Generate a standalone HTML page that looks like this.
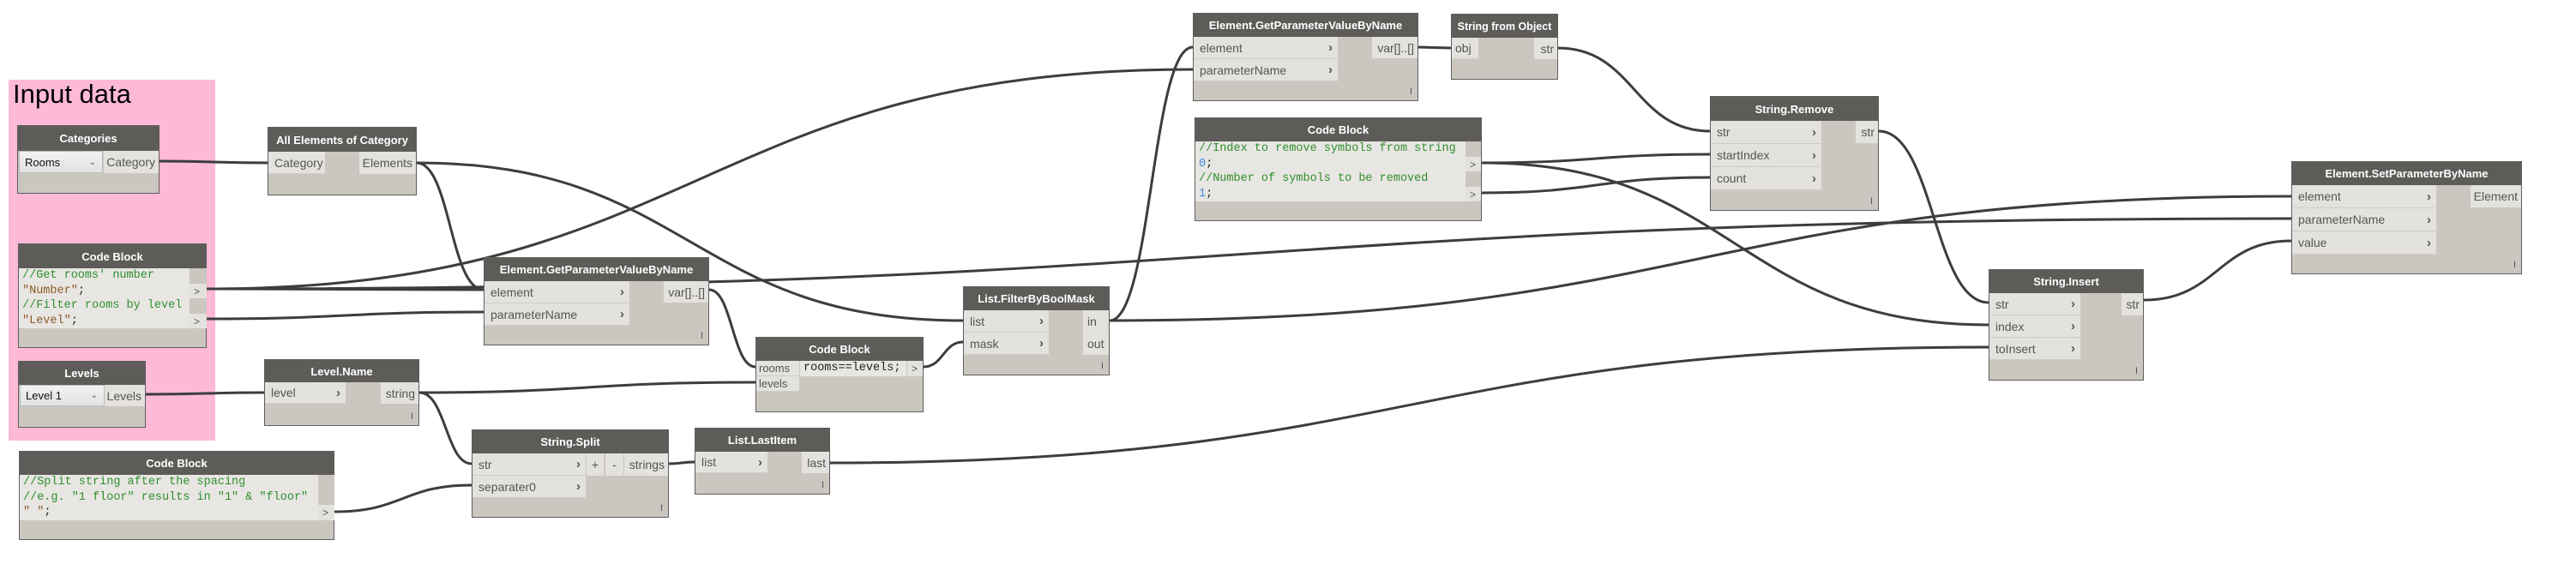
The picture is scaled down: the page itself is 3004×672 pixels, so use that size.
<!DOCTYPE html>
<html><head><meta charset="utf-8">
<style>
*{margin:0;padding:0;box-sizing:border-box}
body{width:3004px;height:672px;background:#fff;position:relative;overflow:hidden;font-family:"Liberation Sans",sans-serif}
.grp{position:absolute;left:10px;top:93px;width:241px;height:421px;background:#fdb9d6}
.gt{position:absolute;left:15px;top:92px;font-size:31px;color:#000}
svg{position:absolute;left:0;top:0}
.n{position:absolute;background:#cbc7c0;border:1px solid #5e5e5e}
.h{position:absolute;left:0;top:0;width:100%;background:#5d5c59;color:#fff;font-weight:bold;font-size:13px;text-align:center;display:flex;align-items:center;justify-content:center;white-space:nowrap;overflow:hidden}
.p{position:absolute;background:#e4e2de;color:#555;font-size:14px;padding-left:7px;display:flex;align-items:center;white-space:nowrap;border-bottom:1px solid #d0cdc8}
.p b{position:absolute;right:6px;color:#555;font-size:15px;font-weight:bold}
.o{position:absolute;background:#e4e2de;color:#555;font-size:14px;padding-right:4px;display:flex;align-items:center;justify-content:flex-end;white-space:nowrap}
.dd{position:absolute;background:linear-gradient(#f2f2f2,#e2e2e2);border:1px solid #bbb;color:#111;font-size:13px;padding-left:6px;display:flex;align-items:center}
.dd i{position:absolute;right:7px;font-style:normal;font-size:10px;color:#555}
.code{position:absolute;background:#e8e6e2;font-family:"Liberation Mono",monospace;font-size:13.5px;color:#2f8f2f;padding-left:4px;overflow:hidden}
.cl{height:18px;line-height:18px;white-space:pre}
.s{color:#8b5a2b}.k{color:#222}.num{color:#3b8fe0}
.oc{position:absolute;background:#cbc7c0}
.oc div{height:18px;line-height:18px;font-size:12px;color:#555;padding-left:5px}
.oc .a{background:#e4e2de}
.f{position:absolute;right:6px;bottom:4px;font-size:11px;color:#555}
</style></head><body>
<div class="grp"></div>
<div class="gt">Input data</div>

<svg width="3004" height="672" viewBox="0 0 3004 672">
<g fill="none" stroke="#3d3d3d" stroke-width="3">
<path d="M186 188 C249 188 249 190 312 190"/>
<path d="M486 190 C525 190 525 338 564 338"/>
<path d="M486 190 C805 190 805 374 1123 374"/>
<path d="M241 337 C403 337 403 338 564 338"/>
<path d="M241 337 C816 337 816 81 1391 81"/>
<path d="M241 337 C1456 337 1456 255 2672 255"/>
<path d="M241 372 C403 372 403 364 564 364"/>
<path d="M827 338 C854 338 854 428 881 428"/>
<path d="M170 460 C239 460 239 458 308 458"/>
<path d="M489 458 C685 458 685 446 881 446"/>
<path d="M489 458 C520 458 520 541 550 541"/>
<path d="M390 597 C470 597 470 566 550 566"/>
<path d="M780 541 C795 541 795 539 810 539"/>
<path d="M968 540 C1644 540 1644 405 2319 405"/>
<path d="M1077 428 C1100 428 1100 399 1123 399"/>
<path d="M1294 374 C1343 374 1343 55 1391 55"/>
<path d="M1294 374 C1983 374 1983 229 2672 229"/>
<path d="M1654 55 L1692 56"/>
<path d="M1817 56 C1906 56 1906 153 1994 153"/>
<path d="M1728 190 C1861 190 1861 180 1994 180"/>
<path d="M1728 190 C2024 190 2024 379 2319 379"/>
<path d="M1728 225 C1861 225 1861 207 1994 207"/>
<path d="M2191 153 C2255 153 2255 353 2319 353"/>
<path d="M2500 350 C2586 350 2586 281 2672 281"/>
</g>
</svg>

<div class="n" style="left:20px;top:146px;width:166px;height:80px">
<div class="h" style="height:29px">Categories</div>
<div class="dd" style="left:1px;top:29px;width:98px;height:26px">Rooms<i>⌄</i></div>
<div class="o" style="left:100px;top:29px;width:64px;height:26px">Category</div>
</div>

<div class="n" style="left:312px;top:148px;width:174px;height:80px">
<div class="h" style="height:28px">All Elements of Category</div>
<div class="p" style="left:0;top:28px;width:66px;height:26px">Category</div>
<div class="o" style="left:106px;top:28px;width:66px;height:26px">Elements</div>
</div>

<div class="n" style="left:21px;top:284px;width:220px;height:122px">
<div class="h" style="height:28px">Code Block</div>
<div class="code" style="left:0;top:28px;width:199px;height:70px"><div class="cl" style="height:17.5px">//Get rooms' number</div><div class="cl" style="height:17.5px"><span class="s">"Number"</span><span class="k">;</span></div><div class="cl" style="height:17.5px">//Filter rooms by level</div><div class="cl" style="height:17.5px"><span class="s">"Level"</span><span class="k">;</span></div></div>
<div class="oc" style="left:199px;top:28px;width:20px"><div style="height:17.5px"></div><div class="a" style="height:17.5px">&gt;</div><div style="height:17.5px"></div><div class="a" style="height:17.5px">&gt;</div></div>
</div>

<div class="n" style="left:21px;top:421px;width:149px;height:78px">
<div class="h" style="height:27px">Levels</div>
<div class="dd" style="left:1px;top:27px;width:99px;height:25px">Level 1<i>⌄</i></div>
<div class="o" style="left:100px;top:27px;width:47px;height:25px">Levels</div>
</div>

<div class="n" style="left:308px;top:419px;width:181px;height:78px">
<div class="h" style="height:26px">Level.Name</div>
<div class="p" style="left:0;top:26px;width:94px;height:25px">level<b>›</b></div>
<div class="o" style="left:135px;top:26px;width:44px;height:25px">string</div>
<div class="f">I</div>
</div>

<div class="n" style="left:22px;top:526px;width:368px;height:104px">
<div class="h" style="height:27px">Code Block</div>
<div class="code" style="left:0;top:27px;width:348px;height:53px"><div class="cl" style="height:17.5px">//Split string after the spacing</div><div class="cl" style="height:17.5px">//e.g. "1 floor" results in "1" &amp; "floor"</div><div class="cl" style="height:17.5px"><span class="s">" "</span><span class="k">;</span></div></div>
<div class="oc" style="left:348px;top:27px;width:19px"><div style="height:17.5px"></div><div style="height:17.5px"></div><div class="a" style="height:17.5px">&gt;</div></div>
</div>

<div class="n" style="left:564px;top:300px;width:263px;height:103px">
<div class="h" style="height:27px">Element.GetParameterValueByName</div>
<div class="p" style="left:0;top:27px;width:169px;height:26px">element<b>›</b></div>
<div class="p" style="left:0;top:53px;width:169px;height:26px">parameterName<b>›</b></div>
<div class="o" style="left:209px;top:27px;width:52px;height:25px">var[]..[]</div>
<div class="f">I</div>
</div>

<div class="n" style="left:881px;top:393px;width:196px;height:88px">
<div class="h" style="height:27px">Code Block</div>
<div class="p" style="left:0;top:27px;width:50px;height:18px;font-size:13px;padding-left:3px">rooms</div>
<div class="p" style="left:0;top:45px;width:50px;height:18px;font-size:13px;padding-left:3px">levels</div>
<div class="code" style="left:51px;top:27px;width:124px;height:18px;color:#222"><div class="cl">rooms==levels;</div></div>
<div class="oc" style="left:176px;top:27px;width:18px"><div class="a">&gt;</div></div>
</div>

<div class="n" style="left:550px;top:501px;width:230px;height:103px">
<div class="h" style="height:27px">String.Split</div>
<div class="p" style="left:0;top:27px;width:132px;height:26px">str<b>›</b></div>
<div class="p" style="left:0;top:53px;width:132px;height:26px">separater0<b>›</b></div>
<div class="o" style="left:133px;top:27px;width:20px;height:26px;justify-content:center;padding:0">+</div>
<div class="o" style="left:155px;top:27px;width:21px;height:26px;justify-content:center;padding:0">-</div>
<div class="o" style="left:177px;top:27px;width:51px;height:26px">strings</div>
<div class="f">I</div>
</div>

<div class="n" style="left:810px;top:499px;width:158px;height:78px">
<div class="h" style="height:27px">List.LastItem</div>
<div class="p" style="left:0;top:27px;width:84px;height:25px">list<b>›</b></div>
<div class="o" style="left:124px;top:27px;width:32px;height:25px">last</div>
<div class="f">I</div>
</div>

<div class="n" style="left:1123px;top:334px;width:171px;height:104px">
<div class="h" style="height:27px">List.FilterByBoolMask</div>
<div class="p" style="left:0;top:27px;width:99px;height:26px">list<b>›</b></div>
<div class="p" style="left:0;top:53px;width:99px;height:26px">mask<b>›</b></div>
<div class="o" style="left:139px;top:27px;width:30px;height:26px;justify-content:flex-start;padding-left:5px">in</div>
<div class="o" style="left:139px;top:53px;width:30px;height:26px;justify-content:flex-start;padding-left:5px">out</div>
<div class="f">I</div>
</div>

<div class="n" style="left:1391px;top:15px;width:263px;height:103px">
<div class="h" style="height:27px">Element.GetParameterValueByName</div>
<div class="p" style="left:0;top:27px;width:168px;height:26px">element<b>›</b></div>
<div class="p" style="left:0;top:53px;width:168px;height:26px">parameterName<b>›</b></div>
<div class="o" style="left:208px;top:27px;width:53px;height:25px">var[]..[]</div>
<div class="f">I</div>
</div>

<div class="n" style="left:1692px;top:16px;width:125px;height:77px">
<div class="h" style="height:27px;font-size:12.5px">String from Object</div>
<div class="p" style="left:0;top:27px;width:31px;height:25px;padding-left:4px">obj</div>
<div class="o" style="left:96px;top:27px;width:27px;height:25px">str</div>
</div>

<div class="n" style="left:1393px;top:137px;width:335px;height:121px">
<div class="h" style="height:27px">Code Block</div>
<div class="code" style="left:0;top:27px;width:315px;height:70px"><div class="cl" style="height:17.5px">//Index to remove symbols from string</div><div class="cl" style="height:17.5px"><span class="num">0</span><span class="k">;</span></div><div class="cl" style="height:17.5px">//Number of symbols to be removed</div><div class="cl" style="height:17.5px"><span class="num">1</span><span class="k">;</span></div></div>
<div class="oc" style="left:315px;top:27px;width:18px"><div style="height:17.5px"></div><div class="a" style="height:17.5px">&gt;</div><div style="height:17.5px"></div><div class="a" style="height:17.5px">&gt;</div></div>
</div>

<div class="n" style="left:1994px;top:112px;width:197px;height:134px">
<div class="h" style="height:28px">String.Remove</div>
<div class="p" style="left:0;top:28px;width:129px;height:27px">str<b>›</b></div>
<div class="p" style="left:0;top:55px;width:129px;height:27px">startIndex<b>›</b></div>
<div class="p" style="left:0;top:82px;width:129px;height:27px">count<b>›</b></div>
<div class="o" style="left:169px;top:28px;width:26px;height:26px">str</div>
<div class="f">I</div>
</div>

<div class="n" style="left:2319px;top:314px;width:181px;height:130px">
<div class="h" style="height:27px">String.Insert</div>
<div class="p" style="left:0;top:27px;width:106px;height:26px">str<b>›</b></div>
<div class="p" style="left:0;top:53px;width:106px;height:26px">index<b>›</b></div>
<div class="p" style="left:0;top:79px;width:106px;height:26px">toInsert<b>›</b></div>
<div class="o" style="left:154px;top:27px;width:25px;height:26px">str</div>
<div class="f">I</div>
</div>

<div class="n" style="left:2672px;top:188px;width:269px;height:132px">
<div class="h" style="height:27px">Element.SetParameterByName</div>
<div class="p" style="left:0;top:27px;width:168px;height:27px">element<b>›</b></div>
<div class="p" style="left:0;top:54px;width:168px;height:27px">parameterName<b>›</b></div>
<div class="p" style="left:0;top:81px;width:168px;height:27px">value<b>›</b></div>
<div class="o" style="left:208px;top:27px;width:59px;height:26px">Element</div>
<div class="f">I</div>
</div>

</body></html>
